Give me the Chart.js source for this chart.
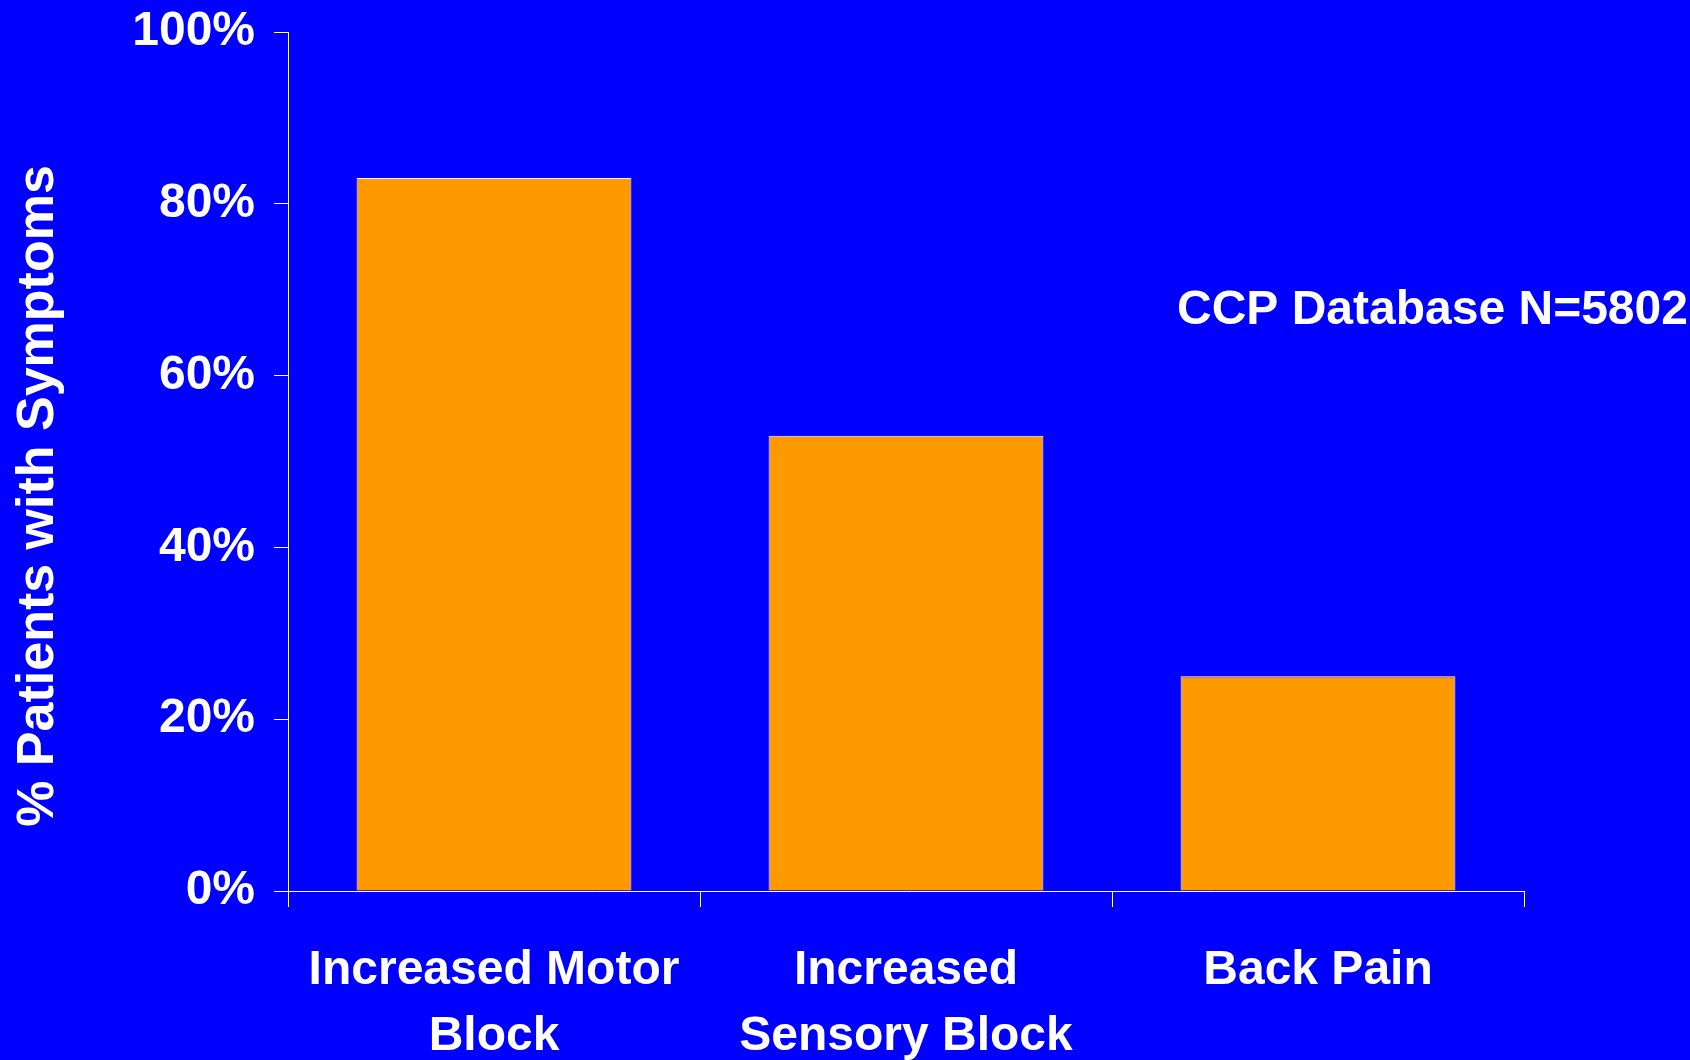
<!DOCTYPE html>
<html>
<head>
<meta charset="utf-8">
<script src="https://cdn.jsdelivr.net/npm/chart.js@4"></script>
<style>
  html, body { margin: 0; padding: 0; background: #0000FF; }
  #wrap { width: 1690px; height: 1060px; }
</style>
</head>
<body>
<div id="wrap"><canvas id="c" width="1690" height="1060"></canvas></div>
<script>
const categories = [["Increased Motor", "Block"], ["Increased", "Sensory Block"], ["Back Pain"]];
const values = [83, 53, 25];
const yTicks = [0, 20, 40, 60, 80, 100];
const yTitle = "% Patients with Symptoms";
const noteText = "CCP Database N=5802";

const FONT = "'Liberation Sans', Arial, sans-serif";

const bgPlugin = {
  id: 'bg',
  beforeDraw(chart) {
    const ctx = chart.ctx;
    ctx.save();
    ctx.fillStyle = '#0000FF';
    ctx.fillRect(0, 0, chart.width, chart.height);
    ctx.restore();
  }
};

const textPlugin = {
  id: 'texts',
  afterDraw(chart) {
    const ctx = chart.ctx;
    ctx.save();
    ctx.fillStyle = '#FFFFFF';
    ctx.font = "bold 48px " + FONT;
    ctx.textAlign = 'left';
    ctx.textBaseline = 'alphabetic';
    ctx.fillText(noteText, 1177, 324);
    ctx.font = "bold 52px " + FONT;
    ctx.translate(53, 496);
    ctx.rotate(-Math.PI / 2);
    ctx.textAlign = 'center';
    ctx.fillText(yTitle, 0, 0);
    ctx.restore();
  }
};

new Chart(document.getElementById('c'), {
  type: 'bar',
  data: {
    labels: categories,
    datasets: [{
      data: values,
      backgroundColor: '#FF9900',
      borderColor: '#FFFFFF',
      borderWidth: 1,
      barPercentage: 0.667,
      categoryPercentage: 1.0
    }]
  },
  options: {
    responsive: false,
    animation: false,
    events: [],
    layout: { padding: { top: 32, right: 166, left: 0, bottom: 0 } },
    plugins: { legend: { display: false }, tooltip: { enabled: false }, title: { display: false } },
    scales: {
      x: {
        afterFit(scale) {
          scale.height = 169;
          scale.paddingLeft = 0; scale.paddingRight = 0;
        },
        grid: {
          display: true,
          offset: true,
          drawOnChartArea: false,
          drawTicks: true,
          tickLength: 16,
          color: '#FFFFFF',
          lineWidth: 1
        },
        border: { display: true, color: '#FFFFFF', width: 1 },
        ticks: {
          color: '#FFFFFF',
          font: { family: FONT, size: 48, weight: 'bold', lineHeight: 1.375 },
          padding: 31,
          maxRotation: 0,
          autoSkip: false
        }
      },
      y: {
        min: 0,
        max: 100,
        afterFit(scale) {
          scale.width = 288;
          scale.paddingTop = 0; scale.paddingBottom = 0;
        },
        afterBuildTicks(scale) { scale.ticks = yTicks.map(v => ({ value: v })); },
        grid: {
          display: true,
          drawOnChartArea: false,
          drawTicks: true,
          tickLength: 14,
          color: '#FFFFFF',
          lineWidth: 1
        },
        border: { display: true, color: '#FFFFFF', width: 1 },
        ticks: {
          color: '#FFFFFF',
          font: { family: FONT, size: 48, weight: 'bold' },
          padding: 19,
          callback: (v) => v + '%'
        }
      }
    }
  },
  plugins: [bgPlugin, textPlugin]
});
</script>
</body>
</html>
